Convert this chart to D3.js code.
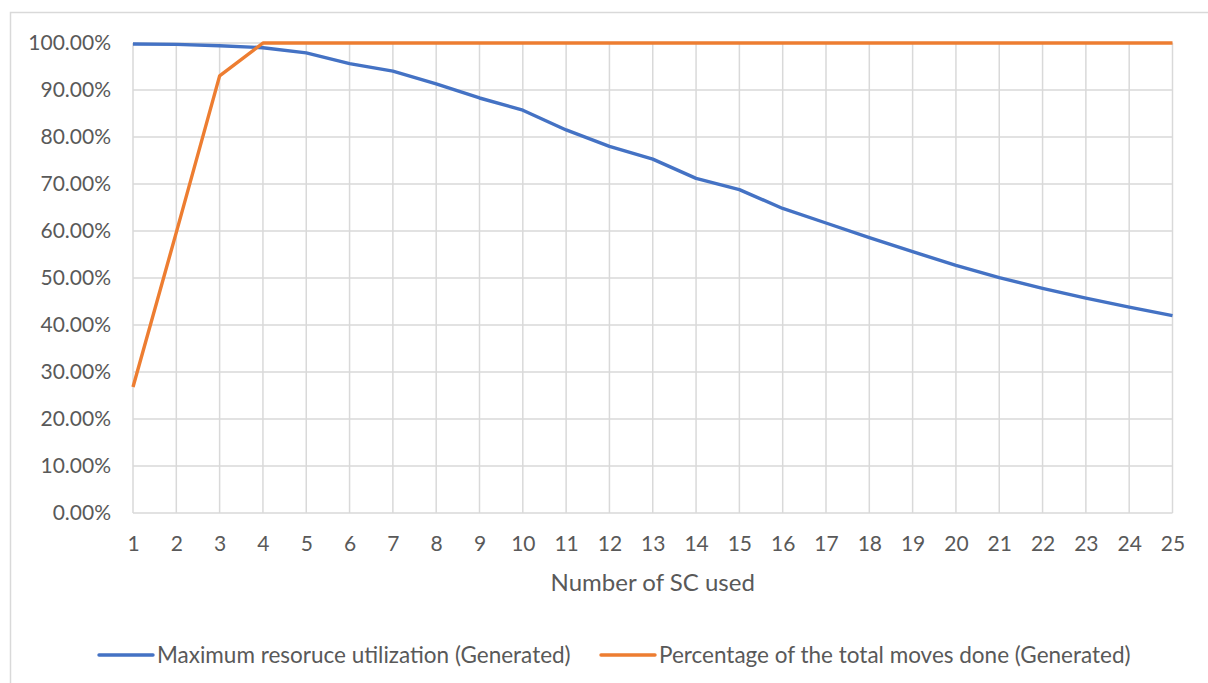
<!DOCTYPE html>
<html><head><meta charset="utf-8">
<script src="https://cdn.jsdelivr.net/npm/d3@7"></script>
<style>body{margin:0;background:#fff}svg{display:block;font-family:Lato,"Open Sans",sans-serif}</style>
</head><body><svg id="c" width="1208" height="683"></svg>
<script>
const categories = d3.range(1, 26);
const utilization = [99.8,99.7,99.4,99.0,97.9,95.6,94.0,91.3,88.3,85.7,81.5,78.0,75.3,71.2,68.8,64.8,61.7,58.6,55.6,52.7,50.1,47.8,45.7,43.8,42.0];
const movesDone = [26.8,59.7,93.0,100,100,100,100,100,100,100,100,100,100,100,100,100,100,100,100,100,100,100,100,100,100];
const yTicks = [0,10,20,30,40,50,60,70,80,90,100];
const seriesNames = ["Maximum resoruce utilization (Generated)","Percentage of the total moves done (Generated)"];
const colors = ["#4472c4","#ed7d31"];
const xTitle = "Number of SC used";

const svg = d3.select("#c");
const txt = "#595959", grid = "#d9d9d9";
svg.append("rect").attr("x",10.5).attr("y",12.5).attr("width",1220).attr("height",700)
  .attr("fill","none").attr("stroke",grid).attr("stroke-width",1.5);

const x = d3.scaleLinear().domain([1,25]).range([133,1172.5]);
const y = d3.scaleLinear().domain([0,100]).range([513,43]);

const g = svg.append("g");
g.selectAll(".hg").data(yTicks).join("line")
  .attr("x1",x(1)).attr("x2",x(25)).attr("y1",d=>y(d)).attr("y2",d=>y(d))
  .attr("stroke",grid).attr("stroke-width",1.5);
g.selectAll(".vg").data(categories).join("line")
  .attr("x1",d=>x(d)).attr("x2",d=>x(d)).attr("y1",y(0)).attr("y2",y(100))
  .attr("stroke",grid).attr("stroke-width",1.5);

const ya = svg.append("g").attr("transform",`translate(${x(1)-22},0)`)
  .call(d3.axisLeft(y).tickValues(yTicks).tickFormat(d=>d.toFixed(2)+"%").tickSize(0).tickPadding(0));
ya.select(".domain").remove();
ya.selectAll("text").attr("fill",txt).style("font-size","21px").style("font-family","Lato,'Open Sans',sans-serif");

const xa = svg.append("g").attr("transform",`translate(0,${y(0)+23})`)
  .call(d3.axisBottom(x).tickValues(categories).tickFormat(d3.format("d")).tickSize(0).tickPadding(0));
xa.select(".domain").remove();
xa.selectAll("text").attr("fill",txt).style("font-size","21px").style("font-family","Lato,'Open Sans',sans-serif");

svg.append("text").attr("x",(x(1)+x(25))/2).attr("y",591).attr("text-anchor","middle")
  .attr("fill",txt).style("font-size","24px").text(xTitle);

const line = d3.line().x((d,i)=>x(categories[i])).y(d=>y(d));
[utilization, movesDone].forEach((s,i)=>{
  svg.append("path").datum(s).attr("d",line).attr("fill","none")
    .attr("stroke",colors[i]).attr("stroke-width",3.4).attr("stroke-linejoin","round");
});

const leg = [{x:99},{x:601}];
leg.forEach((l,i)=>{
  svg.append("line").attr("x1",l.x).attr("x2",l.x+54).attr("y1",655).attr("y2",655)
    .attr("stroke",colors[i]).attr("stroke-width",3.4).attr("stroke-linecap","round");
  svg.append("text").attr("x",l.x+58).attr("y",663).attr("fill",txt).style("font-size","22.5px").text(seriesNames[i]);
});
</script></body></html>
